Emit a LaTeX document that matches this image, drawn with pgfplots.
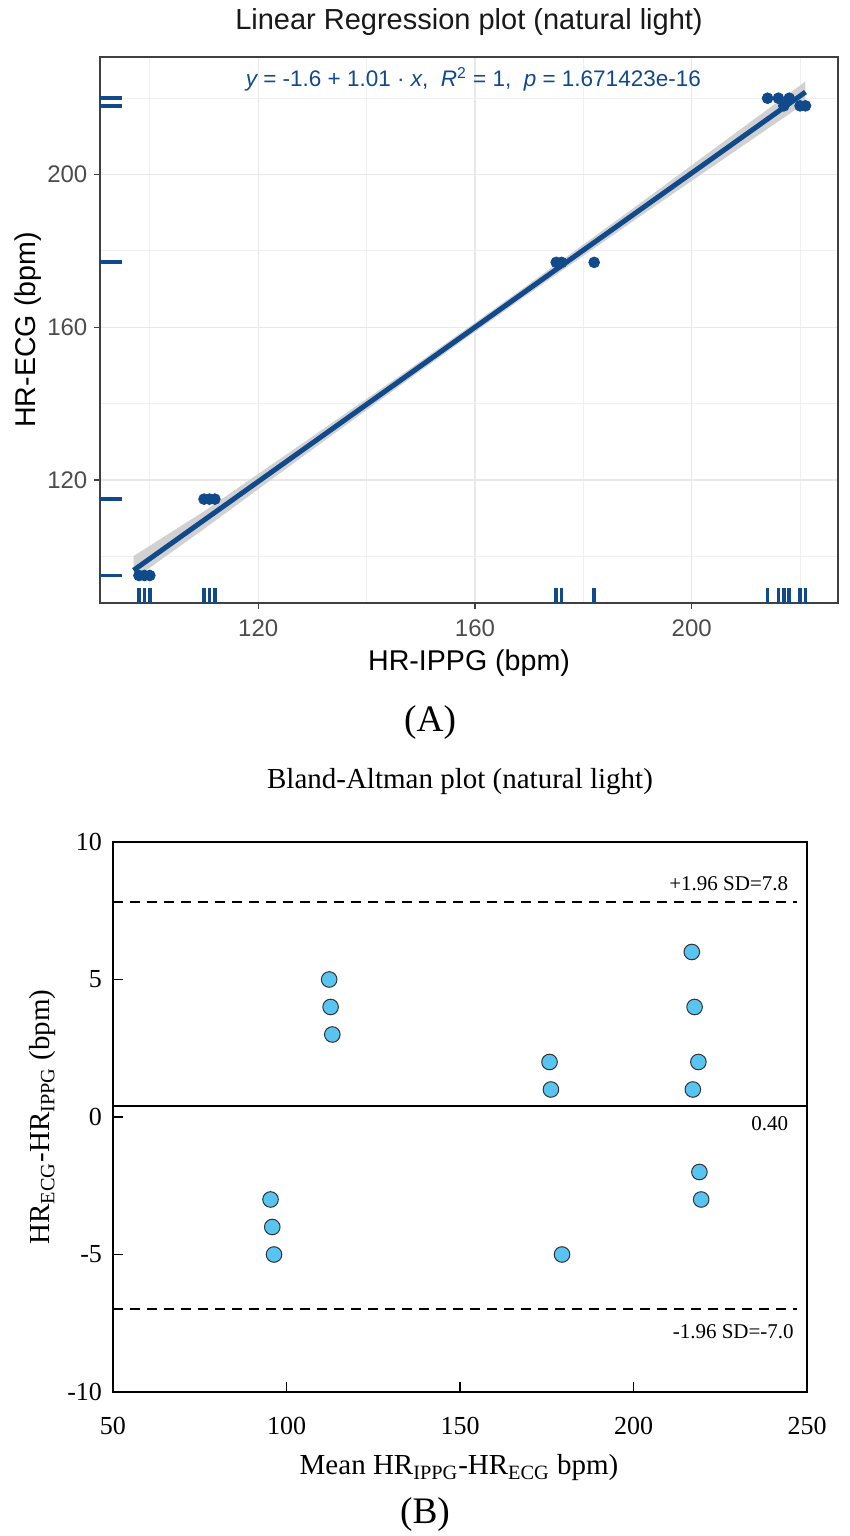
\documentclass[border=0pt]{standalone}
\usepackage{pgfplots}
\usepackage{pgfplotstable}
\pgfplotsset{compat=1.18}
\usepackage{fontspec}
\setmainfont{Liberation Serif}
\newfontfamily\arialf{Liberation Sans}
\definecolor{ggblue}{RGB}{16,74,138}
\definecolor{bacyan}{RGB}{88,196,242}
\definecolor{gggrid}{RGB}{232,232,232}
\definecolor{ggminor}{RGB}{240,240,240}

\pgfplotstableread{
ippg ecg
98 95
99 95
100 95
110 115
111 115
112 115
175 177
176 177
182 177
214 220
216 220
218 220
217 218
220 218
221 218
}\regdata

\pgfplotstableread{
mean diff
95.4 -3
95.9 -4
96.4 -5
112.3 5
112.7 4
113.2 3
175.8 2
176.2 1
179.4 -5
216.8 6
217.6 4
218.7 2
217.1 1
219.0 -2
219.5 -3
}\badata

\begin{document}
\begin{tikzpicture}
\useasboundingbox (0,0) rectangle (425pt,768pt);

% ---------------- (A) regression ----------------
\begin{axis}[
  at={(50pt,466.5pt)}, anchor=south west,
  width=369pt, height=273pt, scale only axis,
  xmin=90.8, xmax=227.0, ymin=87.8, ymax=230.8,
  xtick={120,160,200}, ytick={120,160,200},
  minor xtick={100,140,180,220}, minor ytick={100,140,180,220},
  grid=both,
  major grid style={color=gggrid, line width=0.7pt},
  minor grid style={color=ggminor, line width=0.45pt},
  axis line style={draw=black!75, line width=0.6pt},
  tick align=outside, major tick length=2.8pt, minor tick length=0pt,
  tick style={black!75, line width=0.6pt},
  xtick pos=bottom, ytick pos=left,
  tick label style={font=\arialf\fontsize{12}{12}\selectfont, text=black!70},
  xticklabel style={yshift=-2pt},
  /pgf/number format/assume math mode=true,
]
% confidence band
\addplot[fill=black!18, draw=none] coordinates {
 (97,94.0) (110,107.2) (130,128.0) (150,148.65) (160,158.8) (170,168.85) (190,188.6) (210,208.1) (221,218.8)
 (221,224.4) (210,212.9) (190,192.0) (170,171.35) (160,161.2) (150,151.15) (130,131.4) (110,111.8) (97,100.1)
} -- cycle;
% regression line
\addplot[ggblue, line width=2.5pt] coordinates {(97,96.37) (221,221.61)};
% points
\addplot[only marks, mark=*, mark size=2.7pt, color=ggblue] table[x=ippg, y=ecg] {\regdata};
% bottom rug
\addplot[only marks, mark=|, mark size=3.75pt, color=ggblue, mark options={line width=1.8pt}]
  table[x=ippg, y expr=89.77] {\regdata};
% left rug
\addplot[only marks, mark=-, mark size=5.5pt, color=ggblue, mark options={line width=1.9pt}]
  table[x expr=92.83, y=ecg] {\regdata};
\node[font=\arialf\fontsize{11.25}{12}\selectfont, text=ggblue] at (axis cs:159.7,224.9)
  {\itshape y\upshape\ = -1.6 + 1.01 · \itshape x\upshape ,\ \ \itshape R\upshape\textsuperscript{2} = 1,\ \ \itshape p\upshape\ = 1.671423e-16};
\end{axis}

\node[font=\arialf\fontsize{14.5}{15}\selectfont, text=black!90] at (234.5pt,757pt) {Linear Regression plot (natural light)};
\node[font=\arialf\fontsize{14.3}{16}\selectfont] at (234.5pt,436.5pt) {HR-IPPG (bpm)};
\node[font=\arialf\fontsize{14.3}{16}\selectfont, rotate=90] at (14pt,603pt) {HR-ECG (bpm)};
\node[font=\fontsize{18.7}{20}\selectfont] at (215pt,406.5pt) {(A)};

% ---------------- (B) Bland-Altman ----------------
\begin{axis}[
  at={(56.5pt,72pt)}, anchor=south west,
  width=347pt, height=275pt, scale only axis,
  xmin=50, xmax=250, ymin=-10, ymax=10,
  xtick={50,100,150,200,250}, ytick={-10,-5,0,5,10},
  tick align=inside, xtick pos=bottom, ytick pos=left,
  major tick length=5pt,
  axis line style={line width=1pt},
  tick style={line width=0.9pt, black},
  tick label style={font=\fontsize{13}{13}\selectfont},
  xticklabel style={yshift=-9pt},
  yticklabel style={xshift=-2pt},
  /pgf/number format/assume math mode=true,
  clip=false,
]
\addplot[black, line width=1pt, dash pattern=on 5pt off 3.5pt] coordinates {(50,7.8) (247,7.8)};
\addplot[black, line width=1pt, dash pattern=on 5pt off 3.5pt] coordinates {(50,-7.0) (247,-7.0)};
\addplot[black, line width=1pt] coordinates {(50,0.4) (250,0.4)};
\addplot[only marks, mark=*, mark size=3.9pt, mark options={fill=bacyan, draw=black!80, line width=0.5pt}]
  table[x=mean, y=diff] {\badata};
\node[anchor=east, font=\fontsize{10.5}{11}\selectfont] at (axis cs:246.6,8.5) {+1.96 SD=7.8};
\node[anchor=east, font=\fontsize{10.5}{11}\selectfont] at (axis cs:246.6,-0.25) {0.40};
\node[anchor=east, font=\fontsize{10.5}{11}\selectfont] at (axis cs:248.2,-7.8) {-1.96 SD=-7.0};
\end{axis}

\node[font=\fontsize{14.5}{15}\selectfont] at (230pt,377pt) {Bland-Altman plot (natural light)};
\node[font=\fontsize{14.5}{15}\selectfont] at (229.5pt,34pt) {Mean HR\textsubscript{IPPG}-HR\textsubscript{ECG} bpm)};
\node[font=\fontsize{14.5}{15}\selectfont, rotate=90] at (21.5pt,209.5pt) {HR\textsubscript{ECG}-HR\textsubscript{IPPG} (bpm)};
\node[font=\fontsize{18.7}{20}\selectfont] at (212.5pt,10.5pt) {(B)};
\end{tikzpicture}
\end{document}
